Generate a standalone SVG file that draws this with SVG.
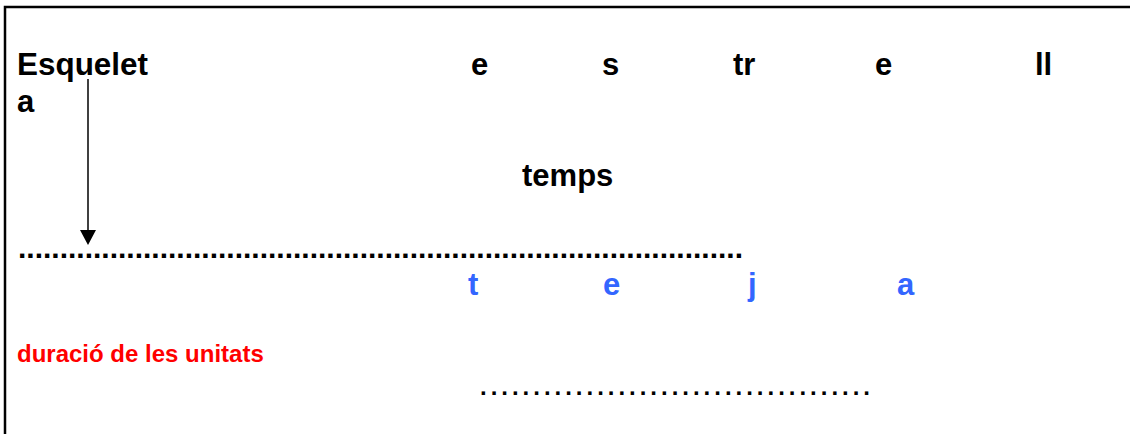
<svg xmlns="http://www.w3.org/2000/svg" width="1130" height="434" viewBox="0 0 1130 434">
<style>
.t{font-family:"Liberation Sans",Arial,sans-serif;font-weight:bold;font-size:31px;fill:#000}
.b{fill:#3366FF}
.r{font-family:"Liberation Sans",Arial,sans-serif;font-weight:bold;font-size:24px;fill:#FF0000}
.dots{font-family:"Liberation Sans",Arial,sans-serif;font-weight:bold;fill:#000}
</style>
<rect width="1130" height="434" fill="#fff"/>
<g id="frame"><path d="M5,440 L5,7 L1135,7" fill="none" stroke="#000" stroke-width="2.5"/></g>
<g id="esqueleta"><text class="t" x="17" y="75" textLength="131" lengthAdjust="spacingAndGlyphs">Esquelet</text><text class="t" x="17" y="112">a</text></g>
<g id="estrella">
<text class="t" x="471" y="75">e</text>
<text class="t" x="602" y="75">s</text>
<text class="t" x="733" y="75">tr</text>
<text class="t" x="875" y="75">e</text>
<text class="t" x="1035" y="75">ll</text>
</g>
<g id="temps"><text class="t" x="522" y="186">temps</text></g>
<g id="line1"><text class="dots" x="18" y="258" textLength="725" lengthAdjust="spacing" style="font-size:30px">.......................................................................................</text></g>
<g id="teja">
<text class="t b" x="468" y="295">t</text>
<text class="t b" x="603" y="295">e</text>
<text class="t b" x="748" y="295">j</text>
<text class="t b" x="897" y="295">a</text>
</g>
<g id="durada"><text class="r" x="17" y="362">duració de les unitats</text></g>
<g id="line2"><text class="dots" x="480" y="395" textLength="390" lengthAdjust="spacing" style="font-size:24px">.....................................</text></g>
<g id="connectors"><line x1="88" y1="79" x2="88" y2="232" stroke="#000" stroke-width="1.5"/><path d="M80,230 L96,230 L88,245 Z" fill="#000"/></g>
</svg>
